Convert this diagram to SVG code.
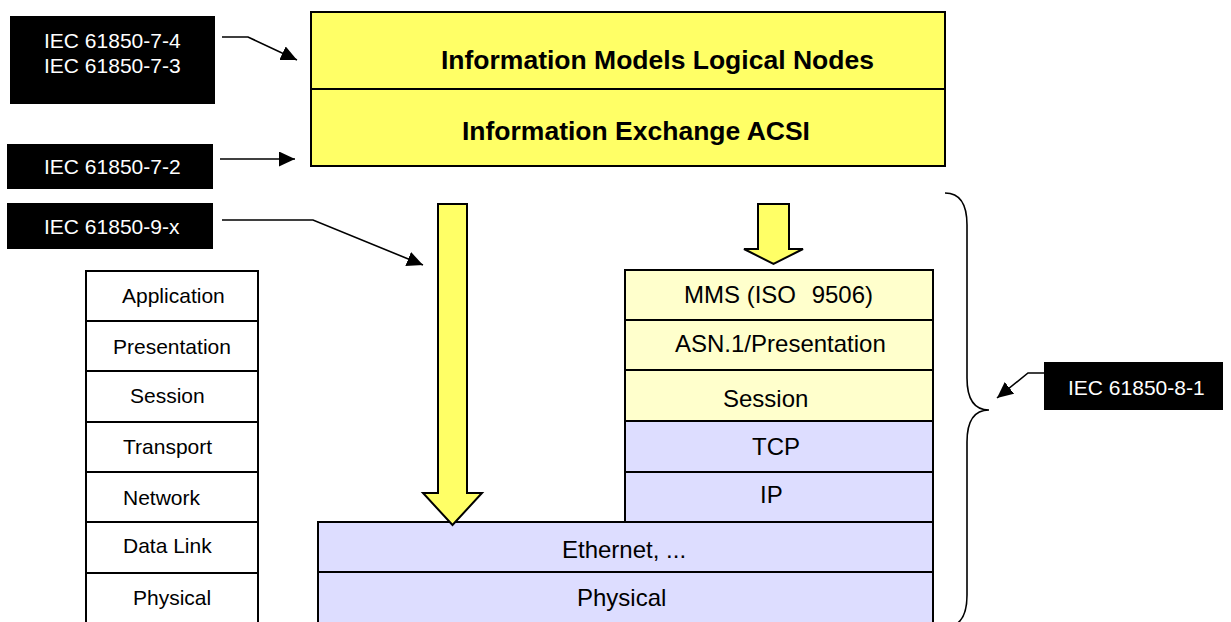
<svg xmlns="http://www.w3.org/2000/svg" width="1231" height="622" viewBox="0 0 1231 622">
<style>
text{font-family:"Liberation Sans",Arial,sans-serif;}
.lbl{fill:#000;stroke:none;}
.lbl text{fill:#fff;font-size:21px;}
.osi rect{fill:#fff;stroke:#000;stroke-width:2;}
.osi text{font-size:21px;fill:#000;}
.ly{fill:#FFFFCC;stroke:#000;stroke-width:2;}
.lb{fill:#DDDDFF;stroke:#000;stroke-width:2;}
.st{font-size:24px;fill:#000;}
.top{fill:#FFFF66;stroke:#000;stroke-width:2;}
.tt{font-size:26.5px;font-weight:bold;fill:#000;}
.yarrow{fill:#FFFF66;stroke:#000;stroke-width:2;stroke-linejoin:miter;}
.con{fill:none;stroke:#000;stroke-width:1.6;}
</style>
<defs>
<marker id="ah" markerUnits="userSpaceOnUse" markerWidth="18" markerHeight="16" refX="16" refY="7.5" orient="auto">
<path d="M0,0 L16,7.5 L0,15 z" fill="#000"/>
</marker>
</defs>

<g id="top-box">
<rect class="top" x="311" y="12" width="634" height="77"/>
<rect class="top" x="311" y="89" width="634" height="77"/>
<text class="tt" x="441" y="69">Information Models Logical Nodes</text>
<text class="tt" x="462" y="140">Information Exchange ACSI</text>
</g>

<g id="label-7-4" class="lbl">
<rect x="10" y="16" width="205" height="88"/>
<text x="44" y="48">IEC 61850-7-4</text>
<text x="44" y="73">IEC 61850-7-3</text>
</g>
<g id="label-7-2" class="lbl">
<rect x="7" y="144" width="206" height="45"/>
<text x="44" y="174">IEC 61850-7-2</text>
</g>
<g id="label-9-x" class="lbl">
<rect x="7" y="203" width="206" height="46"/>
<text x="44" y="234">IEC 61850-9-x</text>
</g>
<g id="label-8-1" class="lbl">
<rect x="1044" y="362" width="179" height="48"/>
<text x="1068" y="395">IEC 61850-8-1</text>
</g>

<g id="osi" class="osi">
<rect x="86" y="271" width="172" height="50"/>
<rect x="86" y="321" width="172" height="50"/>
<rect x="86" y="371" width="172" height="51"/>
<rect x="86" y="422" width="172" height="50"/>
<rect x="86" y="472" width="172" height="50"/>
<rect x="86" y="522" width="172" height="51"/>
<rect x="86" y="573" width="172" height="52"/>
<text x="122" y="303">Application</text>
<text x="113" y="354">Presentation</text>
<text x="130" y="403">Session</text>
<text x="123" y="454">Transport</text>
<text x="123" y="505">Network</text>
<text x="123" y="553">Data Link</text>
<text x="133" y="605">Physical</text>
</g>

<g id="stack">
<rect class="ly" x="625" y="270" width="308" height="50"/>
<rect class="ly" x="625" y="320" width="308" height="50"/>
<rect class="ly" x="625" y="370" width="308" height="51"/>
<rect class="lb" x="625" y="421" width="308" height="51"/>
<rect class="lb" x="625" y="472" width="308" height="50"/>
<rect class="lb" x="318" y="522" width="615" height="50"/>
<rect class="lb" x="318" y="572" width="615" height="52"/>
<text class="st" x="684" y="303">MMS (ISO<tspan dx="9"> 9506)</tspan></text>
<text class="st" x="675" y="352">ASN.1/Presentation</text>
<text class="st" x="723" y="407">Session</text>
<text class="st" x="752" y="455">TCP</text>
<text class="st" x="760" y="503">IP</text>
<text class="st" x="562" y="558">Ethernet, ...</text>
<text class="st" x="577" y="606">Physical</text>
</g>

<g id="arrow-left">
<polygon class="yarrow" points="438,204 467,204 467,493 482,493 452.5,525 423,493 438,493"/>
</g>
<g id="arrow-right">
<polygon class="yarrow" points="758,204 789,204 789,249 803,249 773.5,264 744,249 758,249"/>
</g>

<g id="brace">
<path class="con" d="M945,193 Q967,193 967,225 L967,378 Q967,410 989,410 Q967,410 967,442 L967,595 Q967,627 945,627"/>
</g>

<g id="connectors">
<polyline class="con" points="222,37 248,37 297,60" marker-end="url(#ah)"/>
<line class="con" x1="220" y1="159" x2="295" y2="159" marker-end="url(#ah)"/>
<polyline class="con" points="222,220 313,220 423,265" marker-end="url(#ah)"/>
<polyline class="con" points="1044,373 1028,373 997,398" marker-end="url(#ah)"/>
</g>
</svg>
